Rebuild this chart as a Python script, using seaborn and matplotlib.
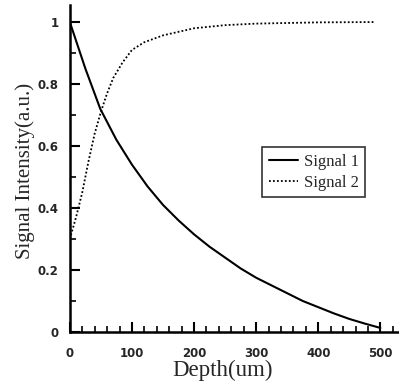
import matplotlib
matplotlib.use("Agg")
import matplotlib.pyplot as plt
import seaborn as sns
import pandas as pd
from matplotlib.ticker import MultipleLocator, FuncFormatter

# Data
depth1 = [0, 25, 49, 75, 100, 125, 150, 175, 200, 225, 250, 275, 300, 325, 350, 375, 400, 425, 450, 475, 500]
signal1 = [1.0, 0.85, 0.72, 0.62, 0.54, 0.47, 0.41, 0.36, 0.315, 0.275, 0.24, 0.205, 0.175,
           0.15, 0.125, 0.10, 0.08, 0.06, 0.042, 0.027, 0.013]
depth2 = [0, 10, 20, 30, 40, 50, 60, 70, 85, 100, 120, 150, 200, 250, 300, 400, 490]
signal2 = [0.30, 0.37, 0.45, 0.55, 0.64, 0.71, 0.77, 0.82, 0.87, 0.91, 0.935, 0.957, 0.98, 0.99, 0.995, 0.999, 1.0]
series_names = ["Signal 1", "Signal 2"]
x_label = "Depth(um)"
y_label = "Signal Intensity(a.u.)"

sns.set_style("ticks")
plt.rcParams['font.family'] = ['DejaVu Sans']

fig = plt.figure(figsize=(3.99, 3.86), dpi=100)
ax = fig.add_axes([0.175, 0.14, 0.825, 0.847])

df1 = pd.DataFrame({"x": depth1, "y": signal1})
df2 = pd.DataFrame({"x": depth2, "y": signal2})
sns.lineplot(data=df1, x="x", y="y", ax=ax, color="black", linewidth=1.5,
             label=series_names[0])
sns.lineplot(data=df2, x="x", y="y", ax=ax, color="black", linewidth=1.3,
             linestyle=(0, (1, 1.2)), label=series_names[1])

ax.set_xlim(0, 530)
ax.set_ylim(0, 1.055)
for s in ["top", "right"]:
    ax.spines[s].set_visible(False)
for s in ["left", "bottom"]:
    ax.spines[s].set_linewidth(1.8)
    ax.spines[s].set_color("black")

ax.xaxis.set_major_locator(MultipleLocator(100))
ax.xaxis.set_minor_locator(MultipleLocator(20))
ax.yaxis.set_major_locator(MultipleLocator(0.2))
ax.yaxis.set_minor_locator(MultipleLocator(0.1))
ax.yaxis.set_major_formatter(FuncFormatter(lambda v, p: "0" if abs(v) < 1e-9 else ("1" if abs(v - 1) < 1e-9 else f"{v:.1f}")))
ax.tick_params(which="major", direction="in", length=7, width=1.5, color="black")
ax.tick_params(which="minor", direction="in", length=4, width=1.2, color="black")
ax.tick_params(axis="both", which="major", labelsize=8.5)
ax.tick_params(axis="x", which="major", pad=11)
ax.tick_params(axis="y", which="major", pad=8)
for lab in ax.get_xticklabels() + ax.get_yticklabels():
    lab.set_fontweight("bold")

ax.set_xlabel(x_label, fontsize=16.5, family=["Liberation Serif"])
ax.xaxis.set_label_coords(0.465, -0.085)
ax.set_ylabel(y_label, fontsize=15, family=["Liberation Serif"])
ax.yaxis.set_label_coords(-0.105, 0.491)

leg = ax.legend(loc="upper left", bbox_to_anchor=(0.584, 0.566), borderaxespad=0,
                fancybox=False, frameon=True, edgecolor="black",
                prop={"family": "Liberation Serif", "size": 12},
                handlelength=1.75, handletextpad=0.35, borderpad=0.4, labelspacing=0.3)
leg.get_frame().set_linewidth(1.2)

fig.savefig("out.png", dpi=100)
